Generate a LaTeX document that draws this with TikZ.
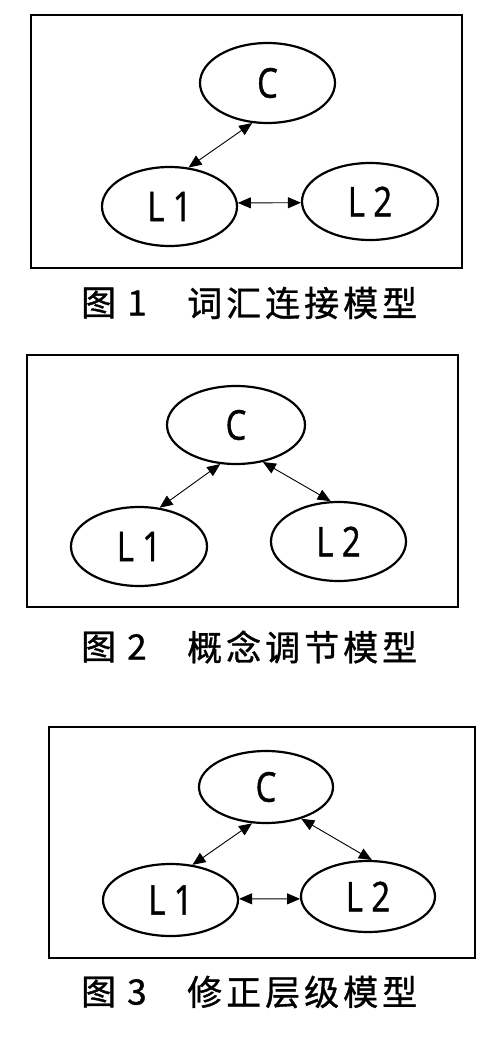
\documentclass[tikz,border=0pt]{standalone}
\usepackage{fontspec}
\setmainfont[FakeBold=1.2]{Open Sans}
\newfontfamily\cjk[FakeBold=1.0]{Noto Sans CJK SC}
\usetikzlibrary{shapes.geometric,arrows.meta}
\newcommand\gp{\kern4pt}
\newcommand\lab[1]{\scalebox{0.8}[1]{#1}}
\begin{document}
\begin{tikzpicture}[x=1pt,y=-1pt,
  frame/.style={draw,line width=2.4pt},
  ell/.style={draw,ellipse,line width=2.2pt,inner sep=0pt,font=\fontsize{41}{43}\selectfont},
  link/.style={line width=0.9pt,{Triangle[length=13pt,width=11pt]}-{Triangle[length=13pt,width=11pt]}},
  captxt/.style={font=\cjk\fontsize{35}{37}\selectfont,anchor=west,inner sep=0pt}
]
\useasboundingbox[fill=white] (0,0) rectangle (500,1040);

% Panel 1
\draw[frame] (31,15) rectangle (462,268);
\node[ell,minimum width=135pt,minimum height=80pt] (C1) at (267.5,83) {\lab{C}};
\node[ell,minimum width=135pt,minimum height=79pt] (A1) at (169.5,206.5) {\lab{L 1}};
\node[ell,minimum width=136pt,minimum height=77pt] (B1) at (370,201.5) {\lab{L 2}};
\draw[link] (C1.-111) -- (A1.64);
\draw[link] (A1.3) -- (B1.181.3);
\node[captxt] (t1a) at (81,303) {图\hspace{11pt}1};
\node[captxt] (t1b) at (187,303) {词\gp 汇\gp 连\gp 接\gp 模\gp 型};

% Panel 2
\draw[frame] (27,355) rectangle (458,607);
\node[ell,minimum width=138pt,minimum height=78pt] (C2) at (236,425) {\lab{C}};
\node[ell,minimum width=136pt,minimum height=79pt] (A2) at (139,546.5) {\lab{L 1}};
\node[ell,minimum width=135pt,minimum height=79pt] (B2) at (338.5,541.5) {\lab{L 2}};
\draw[link] (C2.-112) -- (A2.62.5);
\draw[link] (C2.-54) -- (B2.101.5);
\node[captxt] (t2a) at (81,647) {图\hspace{11pt}2};
\node[captxt] (t2b) at (187,647) {概\gp 念\gp 调\gp 节\gp 模\gp 型};

% Panel 3
\draw[frame] (49,727) rectangle (475,958);
\node[ell,minimum width=134pt,minimum height=72pt] (C3) at (266,787) {\lab{C}};
\node[ell,minimum width=135pt,minimum height=72pt] (A3) at (170.5,900) {\lab{L 1}};
\node[ell,minimum width=134pt,minimum height=71pt] (B3) at (368,896.5) {\lab{L 2}};
\draw[link] (C3.-111.5) -- (A3.58.4);
\draw[link] (C3.-42) -- (B3.84);
\draw[link] (A3.1) -- (B3.182);
\node[captxt] (t3a) at (81,992) {图\hspace{11pt}3};
\node[captxt] (t3b) at (187,992) {修\gp 正\gp 层\gp 级\gp 模\gp 型};
\end{tikzpicture}
\end{document}
